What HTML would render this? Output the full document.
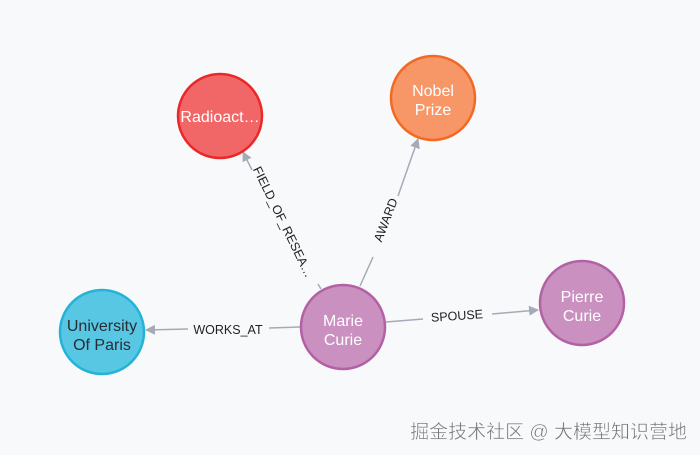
<!DOCTYPE html>
<html><head><meta charset="utf-8"><style>
html,body{margin:0;padding:0;background:#f8f9fb;}
svg{display:block;}
</style></head><body>
<svg width="700" height="455" viewBox="0 0 700 455" xmlns="http://www.w3.org/2000/svg" font-family="Liberation Sans, sans-serif">
<rect width="700" height="455" fill="#f8f9fb"/>
<defs><marker id="a" markerWidth="10" markerHeight="10" refX="9" refY="5" orient="auto" markerUnits="userSpaceOnUse"><path d="M0,0 L10,5 L0,10 z" fill="#a5abb6"/></marker></defs>
<g stroke="#a5abb6" stroke-width="1.5" fill="none">
<line x1="300" y1="327" x2="269" y2="328"/><line x1="188" y1="329" x2="146" y2="330" marker-end="url(#a)"/>
<line x1="386" y1="322" x2="423" y2="319"/><line x1="492" y1="314" x2="538" y2="310" marker-end="url(#a)"/>
<line x1="360" y1="286" x2="373" y2="257"/><line x1="398" y1="196" x2="418" y2="139" marker-end="url(#a)"/>
<line x1="321" y1="289" x2="318" y2="284"/><line x1="252" y1="170" x2="243" y2="152" marker-end="url(#a)"/>
</g>
<g font-size="12.5" fill="#222">
<text x="228" y="334" text-anchor="middle">WORKS_AT</text>
<text x="457" y="320" text-anchor="middle" transform="rotate(-4 457 316)">SPOUSE</text>
<text x="386" y="224" text-anchor="middle" transform="rotate(-69 386 220)">AWARD</text>
<text x="283" y="226" text-anchor="middle" transform="rotate(64 283 222)">FIELD_OF_RESEA…</text>
</g>
<g stroke-width="2.5">
<circle cx="220" cy="116" r="42" fill="#f16667" stroke="#eb2728"/>
<circle cx="433" cy="98" r="42" fill="#f79767" stroke="#f36924"/>
<circle cx="582" cy="303" r="42" fill="#c990c0" stroke="#b261a5"/>
<circle cx="343" cy="327" r="42" fill="#c990c0" stroke="#b261a5"/>
<circle cx="102" cy="332" r="42" fill="#57c7e3" stroke="#23b3d7"/>
</g>
<g font-size="16" fill="#fff" text-anchor="middle">
<text x="220" y="122">Radioact…</text>
<text x="433" y="96">Nobel</text><text x="433" y="115">Prize</text>
<text x="582" y="302">Pierre</text><text x="582" y="321">Curie</text>
<text x="343" y="326">Marie</text><text x="343" y="345">Curie</text>
<text x="102" y="331" fill="#2a2c34">University</text><text x="102" y="350" fill="#2a2c34">Of Paris</text>
</g>
<text x="687" y="438" text-anchor="end" font-size="19" fill="#777" stroke="#fff" stroke-width="0.4" font-family="Liberation Sans, Noto Sans CJK SC, sans-serif">掘金技术社区 @ 大模型知识营地</text>
</svg>
</body></html>
